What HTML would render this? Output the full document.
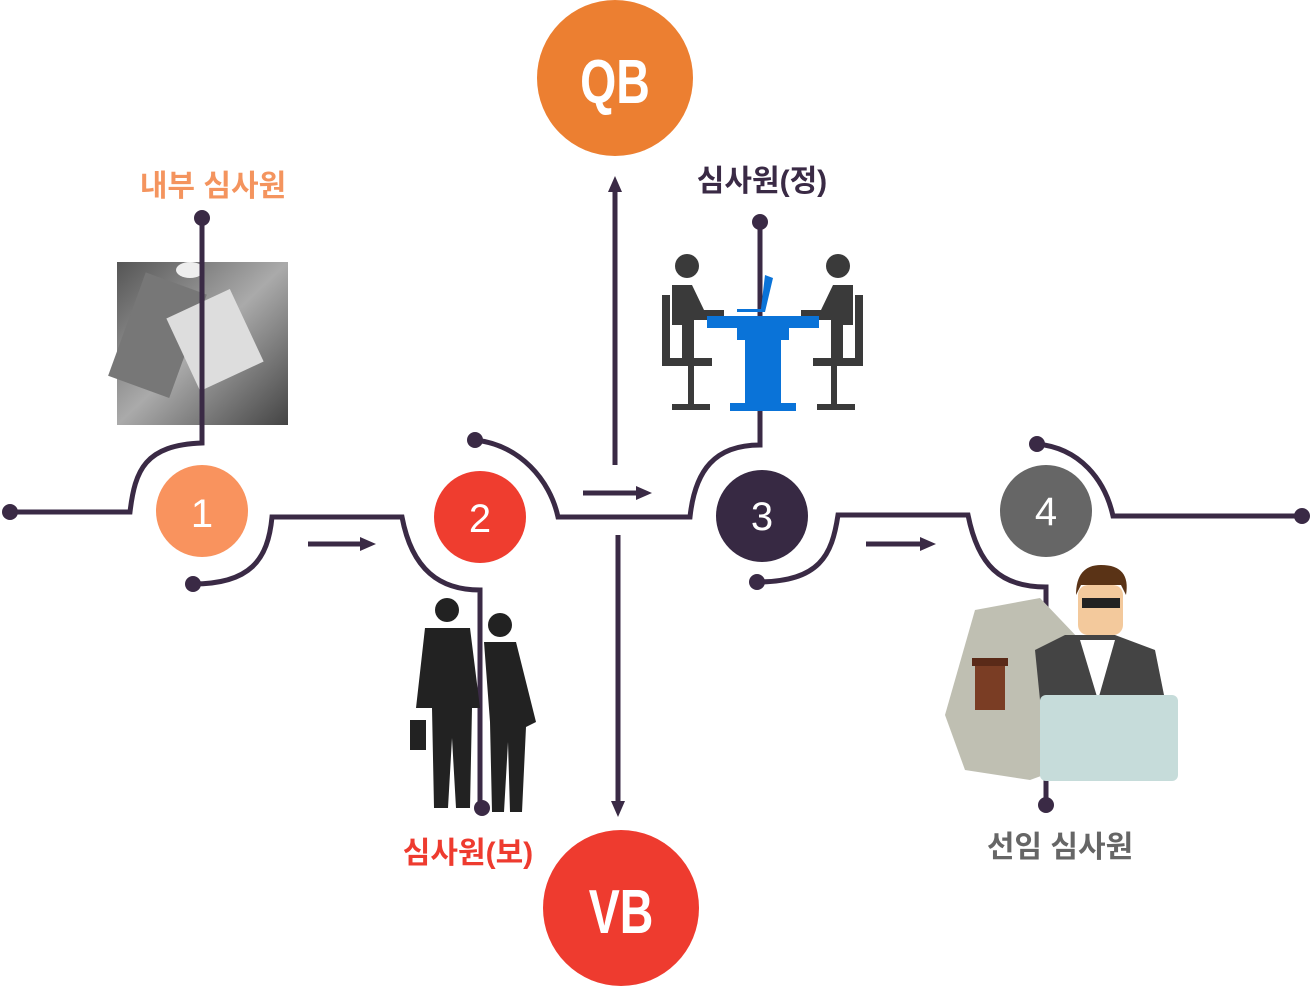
<!DOCTYPE html>
<html><head><meta charset="utf-8"><style>
body{margin:0;background:#fff;width:1311px;height:988px;overflow:hidden;font-family:"Liberation Sans","Noto Sans CJK KR",sans-serif}
</style></head><body>
<svg width="1311" height="988" viewBox="0 0 1311 988" xmlns="http://www.w3.org/2000/svg">
<defs>
<marker id="ah" markerWidth="16" markerHeight="16" refX="2" refY="8" orient="auto" markerUnits="userSpaceOnUse"><path d="M0,1 L16,8 L0,15z" fill="#3a2a45"/></marker>
<linearGradient id="ph" x1="0" y1="0" x2="1" y2="1"><stop offset="0" stop-color="#555"/><stop offset="0.5" stop-color="#aaa"/><stop offset="1" stop-color="#444"/></linearGradient>
</defs>
<!-- photo -->
<rect x="117" y="262" width="171" height="163" fill="url(#ph)"/>
<rect x="125" y="280" width="65" height="110" fill="#777" transform="rotate(20 157 335)"/>
<rect x="180" y="300" width="70" height="80" fill="#ddd" transform="rotate(-25 215 340)"/>
<ellipse cx="190" cy="270" rx="14" ry="8" fill="#eee"/>
<!-- QB / VB -->
<circle cx="615" cy="78" r="78" fill="#ec7f31"/>
<text x="615" y="103" font-size="62" font-weight="bold" fill="#fff" text-anchor="middle" transform="translate(615 0) scale(0.75 1) translate(-615 0)">QB</text>
<circle cx="621" cy="908" r="78" fill="#ee3b2f"/>
<text x="621" y="933" font-size="62" font-weight="bold" fill="#fff" text-anchor="middle" transform="translate(621 0) scale(0.75 1) translate(-621 0)">VB</text>
<g fill="none" stroke="#3a2a45" stroke-width="5">
<path d="M10,512 H130 C135,470 145,445 202,443 V218"/>
<path d="M193,584 C250,584 268,560 272,517 H402 C412,570 440,590 480,590 V808"/>
<path d="M475,440 C520,445 550,480 558,517 H690 C695,470 715,445 760,445 V222"/>
<path d="M757,582 C820,582 832,555 838,515 H968 C978,565 1000,587 1046,587 V805"/>
<path d="M1037,444 C1080,448 1105,480 1113,516 H1302"/>
<path d="M615,465 V190" marker-end="url(#ah)"/>
<path d="M618,535 V803" marker-end="url(#ah)"/>
<path d="M308,544 H362" marker-end="url(#ah)"/>
<path d="M583,493 H638" marker-end="url(#ah)"/>
<path d="M866,544 H922" marker-end="url(#ah)"/>
</g>
<g fill="#3a2a45">
<circle cx="10" cy="512" r="8"/><circle cx="202" cy="218" r="8"/><circle cx="193" cy="584" r="8"/>
<circle cx="482" cy="808" r="8"/><circle cx="475" cy="440" r="8"/><circle cx="760" cy="222" r="8"/>
<circle cx="757" cy="582" r="8"/><circle cx="1046" cy="805" r="8"/><circle cx="1037" cy="444" r="8"/><circle cx="1302" cy="516" r="8"/>
</g>
<!-- number circles -->
<ellipse cx="202" cy="511" rx="46" ry="46" fill="#f9935e"/>
<ellipse cx="480" cy="517" rx="46" ry="46" fill="#ef3d2f"/>
<ellipse cx="762" cy="516" rx="46" ry="46" fill="#372943"/>
<ellipse cx="1046" cy="511" rx="46" ry="46" fill="#666"/>
<g fill="#fff" font-size="40" text-anchor="middle">
<text x="202" y="527">1</text><text x="480" y="532">2</text><text x="762" y="530">3</text><text x="1046" y="525">4</text>
</g>
<!-- meeting icon -->
<g fill="#3a3a3a">
<circle cx="687" cy="266" r="12"/><path d="M672,285 h20 l12,25 h20 v10 h-30 v40 h-12 v-35 h-10z"/>
<rect x="662" y="295" width="8" height="70"/><rect x="662" y="358" width="50" height="8"/><rect x="688" y="366" width="6" height="40"/><rect x="672" y="404" width="38" height="6"/>
<circle cx="838" cy="266" r="12"/><path d="M853,285 h-20 l-12,25 h-20 v10 h30 v40 h12 v-35 h10z"/>
<rect x="855" y="295" width="8" height="70"/><rect x="813" y="358" width="50" height="8"/><rect x="831" y="366" width="6" height="40"/><rect x="817" y="404" width="38" height="6"/>
</g>
<g fill="#0a73d8"><rect x="707" y="316" width="112" height="12"/><rect x="737" y="328" width="52" height="12"/><rect x="745" y="340" width="36" height="65"/><rect x="730" y="403" width="66" height="8"/><path d="M765,275 l8,3 -8,34 h-28 v-3 h24z"/></g>
<!-- business people -->
<g fill="#222">
<circle cx="447" cy="610" r="12"/><path d="M425,628 h45 l10,80 h-8 l-2,100 h-14 l-4,-70 -4,70 h-14 l-2,-100 h-16z"/>
<circle cx="500" cy="625" r="12"/><path d="M484,642 h32 l20,80 -10,5 -4,85 h-12 l-2,-70 -4,70 h-12 l-2,-90z"/>
<rect x="410" y="720" width="16" height="30"/>
</g>
<!-- senior -->
<polygon points="975,610 1040,598 1080,640 1085,760 1030,780 965,770 945,715" fill="#bfbfb2"/>
<path d="M1035,650 l30,-15 h50 l40,15 20,100 h-130z" fill="#444"/>
<path d="M1080,640 h35 l-17,60z" fill="#fff"/>
<rect x="1078" y="585" width="45" height="50" rx="10" fill="#f3c99c"/>
<path d="M1076,595 q0,-30 25,-30 q30,0 25,30 l-5,-10 h-40z" fill="#5a3316"/>
<rect x="1082" y="598" width="38" height="10" fill="#222"/>
<rect x="975" y="665" width="30" height="45" fill="#7a3d24"/><rect x="972" y="658" width="36" height="8" fill="#5a2a18"/>
<rect x="1040" y="695" width="138" height="86" rx="6" fill="#c6dcda"/>
<!-- labels -->
<g font-size="30" font-weight="bold" text-anchor="middle">
<text x="213" y="196" fill="#f4945e">내부 심사원</text>
<text x="762" y="191" fill="#3a2a45">심사원(정)</text>
<text x="468" y="863" fill="#ee3b2f">심사원(보)</text>
<text x="1060" y="857" fill="#666">선임 심사원</text>
</g>
</svg>
</body></html>
